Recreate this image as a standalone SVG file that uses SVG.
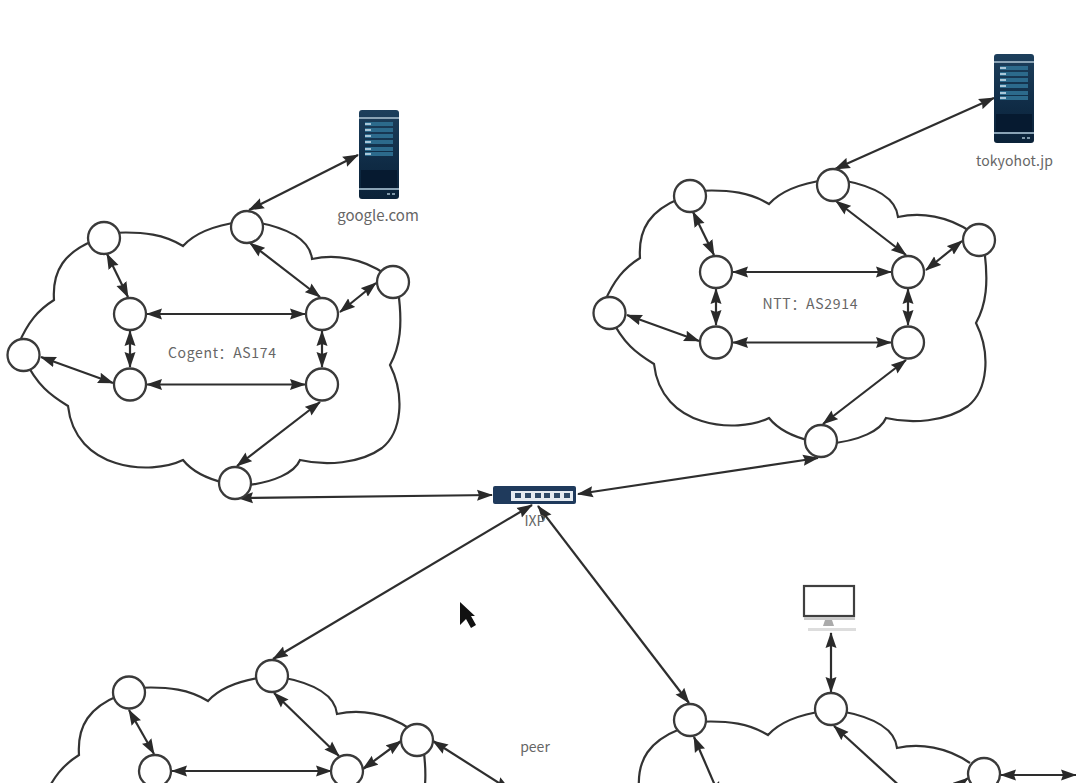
<svg xmlns="http://www.w3.org/2000/svg" width="1076" height="783" viewBox="0 0 1076 783">
<style>
.cloud{fill:none;stroke:#333;stroke-width:2.2}
.n{fill:#fff;stroke:#3a3a3a;stroke-width:2.3}
.l{fill:none;stroke:#2e2e2e;stroke-width:2.2;marker-start:url(#ah);marker-end:url(#ah)}
.t{font-family:"Noto Sans CJK SC","Noto Sans",sans-serif;font-size:15px;fill:#666;text-anchor:middle}
.s{font-size:14px}
.bar{fill:#2c6a8c}
.tick{fill:#a9c6d8}
</style>
<defs>
<marker id="ah" viewBox="0 0 16 12" markerUnits="userSpaceOnUse" markerWidth="16" markerHeight="12" refX="15" refY="6" orient="auto-start-reverse">
<path d="M0,0.5L16,6L0,11.5L2,6z" fill="#2a2a2a"/>
</marker>
<path id="c" class="cloud" d="M110,233C145,231 165,235 183,246C193,235 210,226 240,222M255,222C288,228 310,240 312,259C335,254 362,258 385,274M398,290C403,325 400,347 390,365C405,395 402,432 382,448C360,464 325,466 300,460C295,472 275,483 240,486M225,483C204,478 191,470 183,460C150,476 75,470 68,406C50,395 37,385 25,360M18,345C28,322 38,310 54,300C52,270 65,252 95,240"/>
<g id="links">
<line class="l" x1="107" y1="254" x2="128" y2="297"/>
<line class="l" x1="130" y1="331" x2="130" y2="367"/>
<line class="l" x1="147" y1="314" x2="305" y2="314"/>
<line class="l" x1="147" y1="384.5" x2="305" y2="384.5"/>
<line class="l" x1="322" y1="331" x2="322" y2="367"/>
<line class="l" x1="250" y1="243" x2="320" y2="297"/>
<line class="l" x1="376" y1="283" x2="340" y2="312"/>
<line class="l" x1="41" y1="357" x2="113" y2="383"/>
<line class="l" x1="320" y1="402" x2="237" y2="466"/>
</g>
<g id="nodes">
<circle class="n" cx="104" cy="238" r="16"/>
<circle class="n" cx="247" cy="227" r="16"/>
<circle class="n" cx="393" cy="282" r="16"/>
<circle class="n" cx="130" cy="314" r="16"/>
<circle class="n" cx="322" cy="314" r="16"/>
<circle class="n" cx="130" cy="384.5" r="16"/>
<circle class="n" cx="322" cy="384.5" r="16"/>
<circle class="n" cx="23.5" cy="355" r="16"/>
<circle class="n" cx="235" cy="483" r="16"/>
</g>
<linearGradient id="srv" x1="0" y1="0" x2="0" y2="1">
<stop offset="0" stop-color="#1d3f5c"/><stop offset=".6" stop-color="#0f2b45"/><stop offset="1" stop-color="#0b2238"/>
</linearGradient>
<g id="server">
<rect width="40" height="89" rx="3" fill="url(#srv)"/>
<rect y="7" width="40" height="2" fill="#8aa3b5"/>
<rect y="78" width="40" height="2" fill="#8aa3b5"/>
<rect x="2" y="60" width="36" height="18" fill="#061a30"/>
<rect x="6" y="12" width="28" height="4" class="bar"/><rect x="6" y="18" width="28" height="4" class="bar"/>
<rect x="6" y="24" width="28" height="4" class="bar"/><rect x="6" y="30" width="28" height="4" class="bar"/>
<rect x="6" y="37" width="28" height="4" class="bar"/><rect x="6" y="42" width="28" height="4" class="bar"/>
<rect x="6" y="13" width="6" height="2" class="tick"/><rect x="6" y="19" width="6" height="2" class="tick"/>
<rect x="6" y="25" width="6" height="2" class="tick"/><rect x="6" y="31" width="6" height="2" class="tick"/>
<rect x="6" y="38" width="6" height="2" class="tick"/><rect x="6" y="43" width="6" height="2" class="tick"/>
<rect x="28" y="83" width="3" height="2" fill="#7f97a8"/><rect x="33" y="83" width="3" height="2" fill="#7f97a8"/>
</g>
</defs>

<g id="clouds">
<use id="cloud-cogent" href="#c"/>
<use id="cloud-ntt" href="#c" x="586" y="-42"/>
<use id="cloud-peer" href="#c" x="25" y="455"/>
<use id="cloud-customer" href="#c" x="585" y="489"/>
</g>

<g id="connectors">
<use href="#links"/>
<use href="#links" x="586" y="-42"/>
<line class="l" x1="249" y1="210" x2="358" y2="155"/>
<line class="l" x1="835" y1="169" x2="994" y2="98"/>
<line class="l" x1="238" y1="498" x2="492" y2="495"/>
<line class="l" x1="578" y1="494" x2="818" y2="458"/>
<line class="l" x1="273" y1="659" x2="532" y2="505"/>
<line class="l" x1="538" y1="506" x2="689" y2="703"/>
<line class="l" x1="831" y1="633" x2="831" y2="692"/>
<line class="l" x1="129" y1="710" x2="154" y2="754"/>
<line class="l" x1="274" y1="693" x2="339" y2="756"/>
<line class="l" x1="172" y1="771" x2="331" y2="771"/>
<line class="l" x1="401" y1="741" x2="363" y2="769"/>
<line class="l" x1="433" y1="741" x2="510" y2="790"/>
<line class="l" x1="694" y1="737" x2="720" y2="797"/>
<line class="l" x1="834" y1="726" x2="915" y2="800"/>
<line class="l" x1="968" y1="778" x2="945" y2="796"/>
<line class="l" x1="1001" y1="775" x2="1076" y2="775"/>
</g>

<g id="as-cogent"><use href="#nodes"/></g>
<g id="as-ntt"><use href="#nodes" x="586" y="-42"/></g>
<g id="as-peer">
<circle class="n" cx="129" cy="692.5" r="16"/><circle class="n" cx="272" cy="676" r="16"/><circle class="n" cx="417" cy="740" r="16"/>
<circle class="n" cx="155" cy="771" r="16"/><circle class="n" cx="347" cy="771" r="16"/>
</g>
<g id="as-customer">
<circle class="n" cx="690" cy="720" r="16"/><circle class="n" cx="831" cy="709" r="16"/><circle class="n" cx="984" cy="774" r="16"/>
</g>

<g id="server-google"><use href="#server" x="359" y="110"/><text class="t" x="378" y="221">google.com</text></g>
<g id="server-tokyohot"><use href="#server" x="994" y="54"/><text class="t s" x="1014.5" y="166" textLength="77">tokyohot.jp</text></g>
<text class="t s" x="222" y="358" textLength="108">Cogent：AS174</text>
<text class="t s" x="810" y="309" textLength="95">NTT：AS2914</text>

<g id="ixp">
<rect x="493" y="486" width="83" height="18" rx="2" fill="#1f3a5c"/>
<rect x="511" y="491" width="62" height="10" fill="#e6ecf2"/>
<g fill="#2f4a68"><rect x="515" y="493" width="6" height="5"/><rect x="525" y="493" width="6" height="5"/><rect x="535" y="493" width="6" height="5"/><rect x="544" y="493" width="6" height="5"/><rect x="554" y="493" width="6" height="5"/><rect x="564" y="493" width="6" height="5"/></g>
<text class="t s" x="535" y="526">IXP</text>
</g>

<text class="t s" x="535" y="752">peer</text>

<g id="monitor">
<rect x="804" y="586" width="50" height="30" fill="#fff" stroke="#3f3f3f" stroke-width="2.2"/>
<rect x="804" y="617" width="51" height="3" fill="#c9c9c9"/>
<path d="M825,620h7l2,6h-11z" fill="#aaa"/>
<rect x="808" y="628" width="48" height="3" fill="#ddd"/>
</g>

<path id="cursor" d="M460,602L460,625L466,619L471,628L476,625L471,616L475,616z" fill="#111"/>
</svg>
